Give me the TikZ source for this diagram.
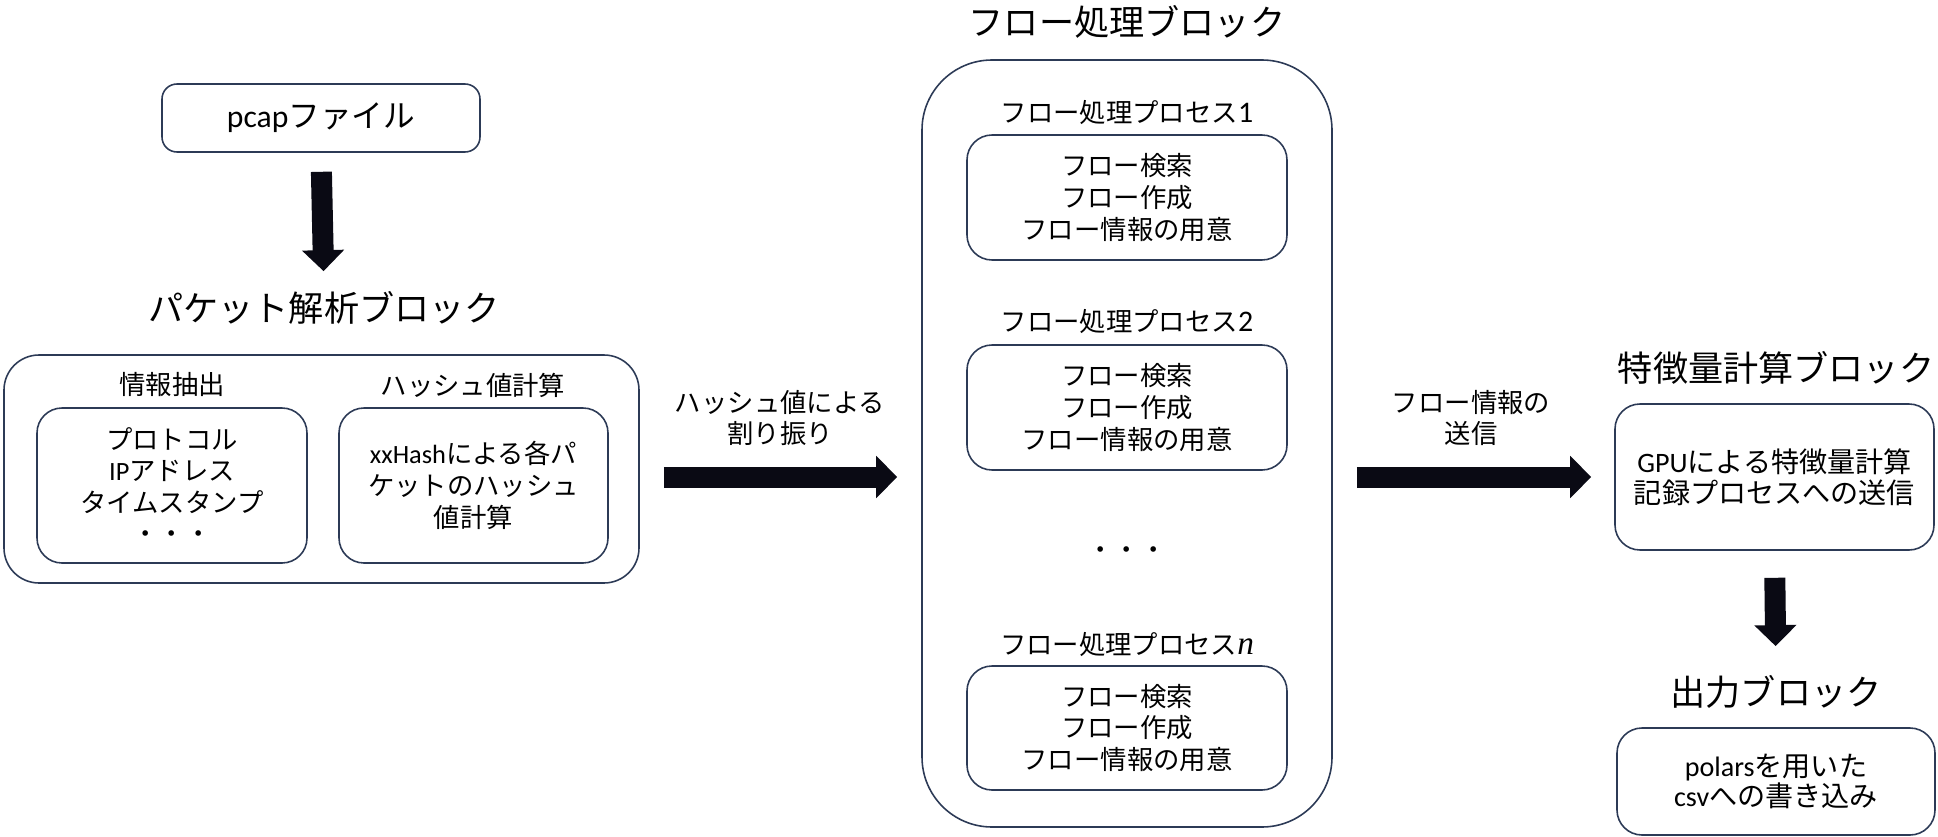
\documentclass[tikz,border=0pt]{standalone}
\usepackage{fontspec}
\setmainfont{Noto Sans CJK JP}
\newfontfamily\lat{Carlito}
\newfontfamily\varn{Liberation Serif}
\usetikzlibrary{arrows.meta}
\definecolor{boxline}{RGB}{44,58,86}
\definecolor{arrowfill}{RGB}{10,10,20}

\begin{document}
\begin{tikzpicture}
\tikzstyle{box}=[draw=boxline,line width=0.9pt,rounded corners=0.5cm,align=center,inner sep=0pt,font=\fontsize{15pt}{18pt}\selectfont]
\tikzstyle{lbl}=[align=center,inner sep=0pt,font=\fontsize{15pt}{18pt}\selectfont]
\tikzstyle{title}=[inner sep=0pt,font=\fontsize{20pt}{24pt}\selectfont]
\tikzstyle{bigarrow}=[draw=arrowfill,line width=0.42cm,-{Triangle[length=0.42cm,width=0.82cm]}]
\useasboundingbox (0,0) rectangle (38.76,-16.74);

% packet block
\node (PCAP) [box,rounded corners=0.3cm,minimum width=6.36cm,minimum height=1.36cm,font=\fontsize{18pt}{22pt}\selectfont] at (6.42,-2.36) {{\lat pcap}ファイル};
\node (PKTT) [title] at (6.48,-6.16) {パケット解析ブロック};
\node (PKT) [box,rounded corners=0.7cm,minimum width=12.70cm,minimum height=4.56cm] at (6.43,-9.38) {};
\node (EXTL) [lbl] at (3.44,-7.70) {情報抽出};
\node (HASHL) [lbl] at (9.46,-7.70) {ハッシュ値計算};
\node (EXT) [box,minimum width=5.40cm,minimum height=3.10cm] at (3.44,-9.71) {プロトコル\\{\lat IP}アドレス\\タイムスタンプ\\・・・};
\node (HASH) [box,minimum width=5.38cm,minimum height=3.10cm] at (9.47,-9.71) {{\lat xxHash}による各パ\\ケットのハッシュ\\値計算};

% flow block
\node (FLOWT) [title] at (22.54,-0.44) {フロー処理ブロック};
\node (FLOW) [box,rounded corners=1.4cm,minimum width=8.20cm,minimum height=15.34cm] at (22.54,-8.87) {};
\node (P1L) [lbl] at (22.54,-2.26) {フロー処理プロセス{\lat\fontsize{17pt}{18pt}\selectfont 1}};
\node (P1) [box,minimum width=6.40cm,minimum height=2.50cm] at (22.54,-3.95) {フロー検索\\フロー作成\\フロー情報の用意};
\node (P2L) [lbl] at (22.54,-6.44) {フロー処理プロセス{\lat\fontsize{17pt}{18pt}\selectfont 2}};
\node (P2) [box,minimum width=6.40cm,minimum height=2.50cm] at (22.54,-8.15) {フロー検索\\フロー作成\\フロー情報の用意};
\node (DOTS) [lbl] at (22.54,-11.06) {・・・};
\node (PNL) [lbl] at (22.54,-12.90) {フロー処理プロセス{\varn\itshape\fontsize{19pt}{18pt}\selectfont n}};
\node (PN) [box,minimum width=6.40cm,minimum height=2.48cm] at (22.54,-14.56) {フロー検索\\フロー作成\\フロー情報の用意};

% feature and output blocks
\node (FEATT) [title] at (35.52,-7.36) {特徴量計算ブロック};
\node (FEAT) [box,minimum width=6.38cm,minimum height=2.92cm,font=\fontsize{16pt}{17.5pt}\selectfont] at (35.49,-9.54) {{\lat GPU}による特徴量計算\\記録プロセスへの送信};
\node (OUTT) [title] at (35.52,-13.84) {出力ブロック};
\node (OUT) [box,minimum width=6.36cm,minimum height=2.14cm,font=\fontsize{16pt}{17.5pt}\selectfont] at (35.52,-15.63) {{\lat polars}を用いた\\{\lat csv}への書き込み};

% arrows
\node (HASHA) [lbl] at (15.60,-8.36) {ハッシュ値による\\割り振り};
\node (SENDA) [lbl] at (29.42,-8.36) {フロー情報の\\送信};
\draw[bigarrow,shorten <=0.38cm,shorten >=0.40cm] (PCAP.south) -- (PKTT.north);
\draw[bigarrow,shorten <=0.48cm,shorten >=0.48cm] (PKT.east |- FEAT) -- (FLOW.west |- FEAT);
\draw[bigarrow,shorten <=0.48cm,shorten >=0.46cm] (FLOW.east |- FEAT) -- (FEAT.west);
\draw[bigarrow,shorten <=0.54cm,shorten >=0.58cm] (FEAT.south) -- (OUTT.north);
\end{tikzpicture}
\end{document}
